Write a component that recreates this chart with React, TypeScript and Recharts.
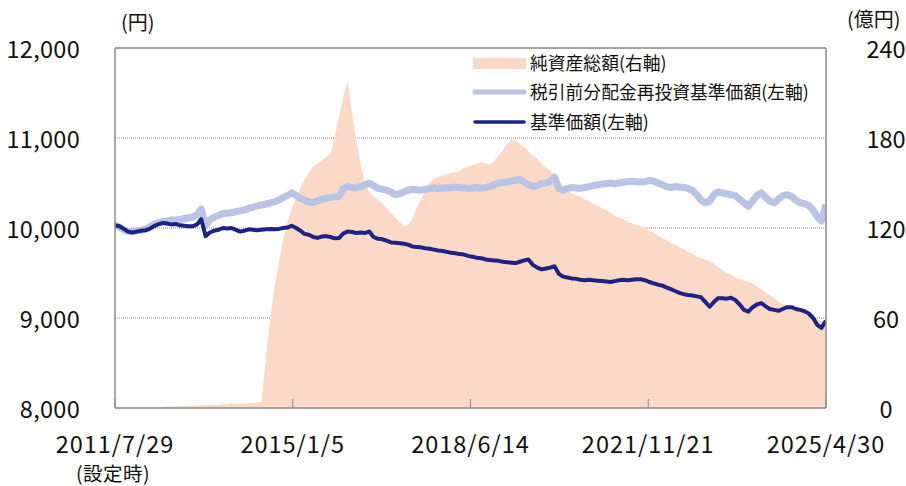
import {
  ComposedChart,
  Area,
  Line,
  XAxis,
  YAxis,
  CartesianGrid,
  ReferenceLine,
} from 'recharts';

// ─── colours / font ──────────────────────────────────────────
const COLORS = {
  asset: '#fbd9c6',
  reinv: '#b8c3e5',
  nav: '#1d2384',
  frame: '#8c8c8c',
  grid: '#8c8c8c',
  text: '#111111',
} as const;

const FONT = '"Noto Sans CJK JP", "Noto Sans", sans-serif';

// ─── data (monthly, from 2011/7/29) ──────────────────────────
const startYear = 2011;
const startMonth = 7;
const startDay = 29;

const xTickLabels = ['2011/7/29', '2015/1/5', '2018/6/14', '2021/11/21', '2025/4/30'];
const leftTicks = [8000, 9000, 10000, 11000, 12000];
const rightTicks = [0, 60, 120, 180, 240];

// 基準価額 (左軸, 円)
const navValues = [
  10030, 10020, 9990, 9960, 9950, 9960,
  9970, 9975, 9990, 10020, 10040, 10055,
  10050, 10040, 10045, 10030, 10025, 10020,
  10020, 10040, 10100, 9910, 9950, 9970,
  9980, 10000, 9995, 10000, 9980, 9960,
  9970, 9985, 9980, 9975, 9980, 9985,
  9990, 9985, 9990, 10000, 10005, 10025,
  10000, 9970, 9935, 9925, 9900, 9890,
  9905, 9910, 9900, 9885, 9890, 9940,
  9960, 9955, 9945, 9950, 9945, 9960,
  9900, 9880, 9875, 9860, 9840, 9835,
  9830, 9825, 9815, 9795, 9790, 9785,
  9775, 9770, 9760, 9750, 9745, 9735,
  9725, 9720, 9710, 9705, 9690, 9680,
  9670, 9665, 9650, 9645, 9640, 9635,
  9625, 9620, 9615, 9610, 9625, 9640,
  9650, 9590, 9560, 9540, 9550, 9560,
  9575, 9490, 9460, 9450, 9440, 9435,
  9425, 9420, 9425, 9420, 9415, 9410,
  9405, 9400, 9410, 9420, 9425, 9420,
  9425, 9430, 9430, 9420, 9400, 9385,
  9370, 9360, 9340, 9320, 9300, 9280,
  9265, 9255, 9250, 9240, 9230, 9180,
  9125, 9180, 9220, 9220, 9215, 9225,
  9200, 9150, 9090, 9070, 9120, 9150,
  9165, 9130, 9100, 9090, 9080, 9100,
  9120, 9120, 9100, 9090, 9075, 9050,
  9000, 8920, 8890, 8970,
];

// 税引前分配金再投資基準価額 (左軸, 円)
const reinvValues = [
  10030, 10010, 9980, 9960, 9960, 9970,
  9975, 9990, 10010, 10040, 10060, 10070,
  10080, 10090, 10090, 10095, 10105, 10115,
  10120, 10150, 10210, 10030, 10090, 10120,
  10140, 10160, 10165, 10170, 10180, 10190,
  10200, 10220, 10230, 10245, 10255, 10265,
  10280, 10290, 10310, 10340, 10360, 10390,
  10360, 10330, 10310, 10290, 10280, 10300,
  10320, 10330, 10340, 10345, 10350, 10440,
  10460, 10450, 10445, 10460, 10480, 10500,
  10470, 10440, 10430, 10420, 10400, 10370,
  10380, 10400, 10420, 10430, 10425, 10420,
  10430, 10440, 10445, 10440, 10445, 10445,
  10450, 10455, 10450, 10445, 10440, 10445,
  10450, 10440, 10450, 10460, 10480, 10500,
  10505, 10510, 10520, 10530, 10540, 10510,
  10480, 10460, 10470, 10500, 10500, 10520,
  10565, 10440, 10420, 10440, 10450, 10445,
  10440, 10450, 10460, 10470, 10480, 10490,
  10495, 10500, 10490, 10500, 10510, 10515,
  10520, 10515, 10510, 10515, 10530, 10520,
  10500, 10480, 10460, 10450, 10460, 10455,
  10450, 10440, 10420, 10370, 10310, 10280,
  10300, 10370, 10400, 10390, 10380, 10370,
  10360, 10320, 10280, 10240, 10300, 10360,
  10390, 10340, 10300, 10280, 10320, 10360,
  10370, 10350, 10310, 10280, 10270, 10250,
  10200, 10120, 10080, 10260,
];

// 純資産総額 (右軸, 億円)
const assetValues = [
  0, 0, 0, 0, 0, 0,
  0, 0, 0, 0, 0, 0.5,
  1, 1, 1.2, 1, 1.3, 1.5,
  1.5, 1.8, 1.5, 2, 2, 2.2,
  2, 2.5, 2.5, 3, 2.5, 2.8,
  3, 3, 3.2, 3.5, 4, 33,
  59, 80, 97, 112, 124, 133,
  140, 147, 152, 157, 161, 163,
  165, 167, 170, 181, 194, 208,
  218, 195, 178, 162, 150, 144,
  141, 139, 136, 133, 130, 127,
  124, 121, 122, 126, 133, 139,
  145, 150, 153, 154, 155, 156,
  157, 157, 158, 160, 161, 162,
  163, 164, 163, 162, 165, 168,
  172, 176, 179, 178, 176, 174,
  171, 168, 166, 163, 160, 158,
  155, 150, 147, 145, 143, 142,
  141, 139, 138, 136, 135, 133,
  132, 130, 128, 127, 126, 124,
  123, 122, 121, 120, 118, 117,
  115, 113, 112, 110, 109, 107,
  106, 104, 103, 101, 100, 99,
  98, 96, 94, 92, 90, 89,
  87, 86, 85, 84, 83, 81,
  79, 77, 75, 73, 71, 69,
  68, 67, 65, 64, 63, 61,
  60, 59, 58, 57,
];

// ─── helpers ─────────────────────────────────────────────────
const toTs = (s: string) => {
  const [y, m, d] = s.split('/').map(Number);
  return Date.UTC(y, m - 1, d);
};

const xTicks = xTickLabels.map(toTs);

const data = navValues.map((nav, i) => ({
  t: Date.UTC(startYear, startMonth - 1 + i, startDay),
  nav,
  reinv: reinvValues[i],
  asset: assetValues[i],
}));

const fmtYen = (v: number) => v.toLocaleString('en-US');

// ─── ticks ───────────────────────────────────────────────────
function XTick(props: any) {
  const { x, payload, index } = props;
  const label = xTickLabels[xTicks.indexOf(payload.value)] ?? '';
  return (
    <g>
      <line x1={x} x2={x} y1={408} y2={399} stroke={COLORS.frame} strokeWidth={1} />
      <text x={x} y={443} textAnchor="middle" dominantBaseline="central"
        fontSize={23.5} letterSpacing={1} fill={COLORS.text} fontFamily={FONT}>
        {label}
      </text>
      {index === 0 && (
        <text x={x - 2} y={472} textAnchor="middle" dominantBaseline="central"
          fontSize={19.5} letterSpacing={0.5} fill={COLORS.text} fontFamily={FONT}>
          (設定時)
        </text>
      )}
    </g>
  );
}

function LeftTick(props: any) {
  const { y, payload } = props;
  return (
    <text x={80} y={y} textAnchor="end" dominantBaseline="central"
      fontSize={23.5} letterSpacing={0.3} fill={COLORS.text} fontFamily={FONT}>
      {fmtYen(payload.value)}
    </text>
  );
}

function RightTick(props: any) {
  const { y, payload } = props;
  return (
    <text x={886} y={y} textAnchor="middle" dominantBaseline="central"
      fontSize={23.5} fill={COLORS.text} fontFamily={FONT}>
      {payload.value}
    </text>
  );
}

// ─── legend ──────────────────────────────────────────────────
function ChartLegend() {
  const rows = [
    { label: '純資産総額(右軸)', kind: 'area' },
    { label: '税引前分配金再投資基準価額(左軸)', kind: 'reinv' },
    { label: '基準価額(左軸)', kind: 'nav' },
  ];
  return (
    <div
      style={{
        position: 'absolute',
        left: 468,
        top: 48,
        fontFamily: FONT,
        fontSize: 17.8,
        color: COLORS.text,
        lineHeight: 1,
      }}
    >
      {rows.map((r) => (
        <div key={r.label} style={{ display: 'flex', alignItems: 'center', height: 29.5 }}>
          <svg width={62} height={16} style={{ flexShrink: 0 }}>
            {r.kind === 'area' && <rect x={5} y={3} width={53} height={11} fill={COLORS.asset} />}
            {r.kind === 'reinv' && (
              <line x1={7} x2={56} y1={8} y2={8} stroke={COLORS.reinv} strokeWidth={5} strokeLinecap="round" />
            )}
            {r.kind === 'nav' && (
              <line x1={7} x2={56} y1={8} y2={8} stroke={COLORS.nav} strokeWidth={3.5} strokeLinecap="round" />
            )}
          </svg>
          <span style={{ whiteSpace: 'nowrap' }}>{r.label}</span>
        </div>
      ))}
    </div>
  );
}

// ─── main ────────────────────────────────────────────────────
export default function App() {
  return (
    <div style={{ position: 'absolute', left: 0, top: 0, width: 906, height: 486, background: '#fff' }}>
      <ComposedChart
        width={906}
        height={486}
        data={data}
        margin={{ top: 48, right: 0, bottom: 0, left: 0 }}
      >
        <CartesianGrid
          yAxisId="left"
          vertical={false}
          stroke={COLORS.grid}
          strokeDasharray="1 1"
        />
        <XAxis
          dataKey="t"
          type="number"
          scale="time"
          domain={[xTicks[0], xTicks[xTicks.length - 1]]}
          ticks={xTicks}
          interval={0}
          height={78}
          tick={<XTick />}
          tickLine={false}
          tickSize={0}
          axisLine={{ stroke: COLORS.frame, strokeWidth: 1.5 }}
          allowDataOverflow
        />
        <YAxis
          yAxisId="left"
          orientation="left"
          width={115}
          domain={[8000, 12000]}
          ticks={leftTicks}
          interval={0}
          tick={<LeftTick />}
          tickLine={false}
          axisLine={{ stroke: COLORS.frame, strokeWidth: 1.5 }}
        />
        <YAxis
          yAxisId="right"
          orientation="right"
          width={80}
          domain={[0, 240]}
          ticks={rightTicks}
          interval={0}
          tick={<RightTick />}
          tickLine={false}
          axisLine={{ stroke: COLORS.frame, strokeWidth: 1.5 }}
        />

        <Area
          yAxisId="right"
          type="linear"
          dataKey="asset"
          fill={COLORS.asset}
          fillOpacity={1}
          stroke="none"
          dot={false}
          activeDot={false}
          isAnimationActive={false}
        />
        <Line
          yAxisId="left"
          type="linear"
          dataKey="reinv"
          stroke={COLORS.reinv}
          strokeWidth={7}
          strokeLinejoin="round"
          dot={false}
          activeDot={false}
          isAnimationActive={false}
        />
        <Line
          yAxisId="left"
          type="linear"
          dataKey="nav"
          stroke={COLORS.nav}
          strokeWidth={4}
          strokeLinejoin="round"
          dot={false}
          activeDot={false}
          isAnimationActive={false}
        />

        <ReferenceLine yAxisId="left" y={12000} stroke={COLORS.frame} strokeWidth={1.5} />
      </ComposedChart>

      <ChartLegend />

      <span style={{ position: 'absolute', left: 121, top: 11, fontFamily: FONT, fontSize: 20, color: COLORS.text, lineHeight: '22px' }}>
        (円)
      </span>
      <span style={{ position: 'absolute', left: 847, top: 8, fontFamily: FONT, fontSize: 20, color: COLORS.text, lineHeight: '22px' }}>
        (億円)
      </span>
    </div>
  );
}
